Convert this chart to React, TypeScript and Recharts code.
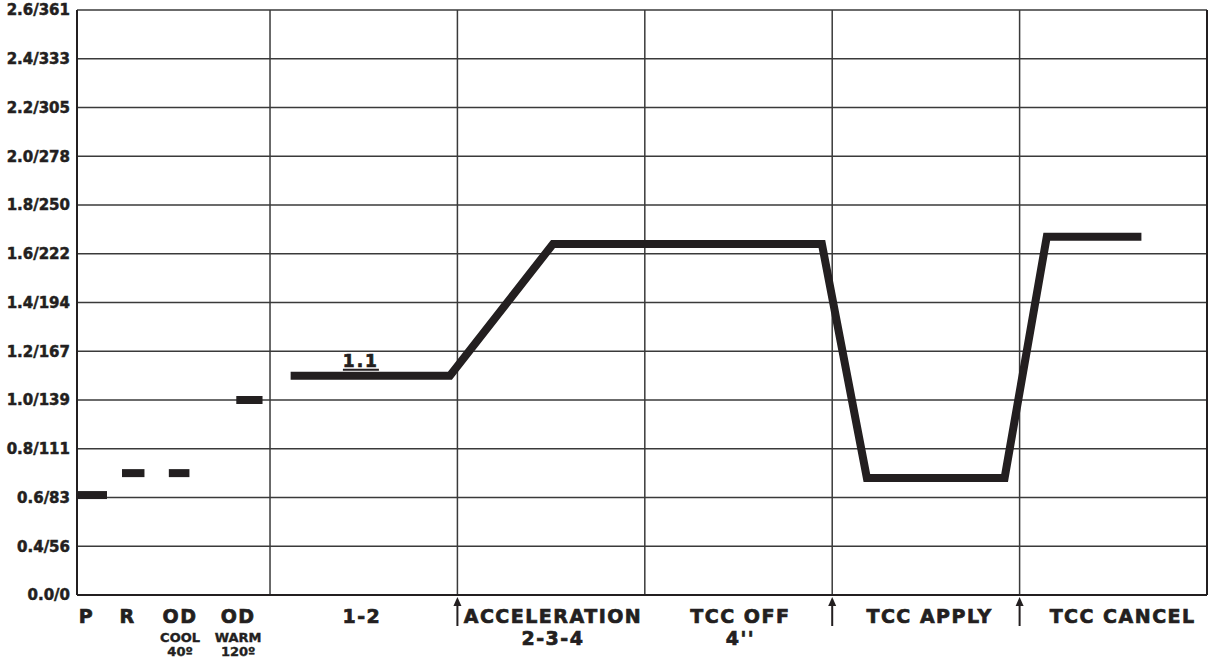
import { LineChart, Line, XAxis, YAxis, CartesianGrid, ReferenceLine, ReferenceDot } from "recharts";

const INK = "#231f20";
const GRID = "#3a3a3a";
const FONT = "'DejaVu Sans', Verdana, sans-serif";

// Pressure scale (psi / kPa). The bottom label reads 0.0/0 but sits one
// step below 0.4, i.e. where 0.2 would be, so the ticks stay evenly spaced.
const yTicks = [0.2, 0.4, 0.6, 0.8, 1.0, 1.2, 1.4, 1.6, 1.8, 2.0, 2.2, 2.4, 2.6];
const yTickLabels = [
  "0.0/0", "0.4/56", "0.6/83", "0.8/111", "1.0/139", "1.2/167", "1.4/194",
  "1.6/222", "1.8/250", "2.0/278", "2.2/305", "2.4/333", "2.6/361",
];

// x runs in "sections" (one per test phase)
const X_MAX = 6.03;
const sectionEdges = [1.03, 2.03, 3.03, 4.03, 5.03];
const arrowTicks = [2.03, 4.03, 5.03];

const xLabelPos = [0.05, 0.27, 0.55, 0.86, 1.52, 2.54, 3.54, 4.55, 5.58];
const xLabelText = ["P", "R", "OD", "OD", "1-2", "ACCELERATION", "TCC OFF", "TCC APPLY", "TCC CANCEL"];
const xLabelSub = ["", "", "", "", "", "2-3-4", "4''", "", ""];
const xLabelSmall = [[], [], ["COOL", "40º"], ["WARM", "120º"], [], [], [], [], []];

// readings
const parkDash = [{ x: 0, y: 0.61 }, { x: 0.16, y: 0.61 }];
const reverseDash = [{ x: 0.24, y: 0.7 }, { x: 0.36, y: 0.7 }];
const odCoolDash = [{ x: 0.49, y: 0.7 }, { x: 0.6, y: 0.7 }];
const odWarmDash = [{ x: 0.85, y: 1.0 }, { x: 0.99, y: 1.0 }];
const driveTrace = [
  { x: 1.14, y: 1.1 },
  { x: 1.99, y: 1.1 },
  { x: 2.54, y: 1.64 },
  { x: 3.975, y: 1.64 },
  { x: 4.215, y: 0.68 },
  { x: 4.95, y: 0.68 },
  { x: 5.175, y: 1.67 },
  { x: 5.68, y: 1.67 },
];
const shiftLabel = { x: 1.515, y: 1.1, text: "1.1" };

// a hairline outline makes DejaVu Bold read closer to the heavy original
const heavy = { stroke: INK, strokeWidth: 0.7, paintOrder: "stroke" as const };

function XTick({ x, y, payload }: any) {
  const v = payload.value;
  if (arrowTicks.includes(v)) {
    return (
      <g>
        <line x1={x} y1={y + 8} x2={x} y2={y + 31} stroke={INK} strokeWidth={2} />
        <path d={`M${x - 4},${y + 11} L${x},${y + 2} L${x + 4},${y + 11} Z`} fill={INK} />
      </g>
    );
  }
  const i = xLabelPos.indexOf(v);
  if (i < 0) return null;
  return (
    <g fontFamily={FONT} fontWeight="bold" fill={INK} textAnchor="middle" {...heavy}>
      <text x={x} y={y + 28} fontSize={19} letterSpacing={1.5}>{xLabelText[i]}</text>
      {xLabelSub[i] && (
        <text x={x} y={y + 50} fontSize={19} letterSpacing={1.5}>{xLabelSub[i]}</text>
      )}
      {xLabelSmall[i].map((s, k) => (
        <text key={k} x={x} y={y + 47 + k * 14} fontSize={13} strokeWidth={0.4}>{s}</text>
      ))}
    </g>
  );
}

const lineProps = {
  type: "linear" as const,
  dataKey: "y",
  stroke: INK,
  strokeWidth: 8,
  strokeLinejoin: "miter" as const,
  strokeLinecap: "butt" as const,
  dot: false,
  activeDot: false,
  isAnimationActive: false,
};

export default function App() {
  return (
    <div style={{ position: "absolute", left: 0, top: 0, background: "#fff" }}>
      <LineChart width={1212} height={662} margin={{ top: 10, right: 5, left: 0, bottom: 0 }}>
        <CartesianGrid vertical={false} stroke={GRID} strokeWidth={1.5} />
        <XAxis
          type="number"
          dataKey="x"
          domain={[0, X_MAX]}
          ticks={[...xLabelPos, ...arrowTicks]}
          interval={0}
          height={67}
          tickSize={0}
          tickMargin={0}
          tickLine={false}
          axisLine={{ stroke: INK, strokeWidth: 2 }}
          tick={(p: any) => <XTick {...p} />}
          allowDataOverflow
        />
        <YAxis
          type="number"
          domain={[0.2, 2.6]}
          ticks={yTicks}
          interval={0}
          width={77}
          tickSize={0}
          tickMargin={7}
          tickLine={false}
          axisLine={{ stroke: INK, strokeWidth: 2 }}
          tickFormatter={(v: number) => yTickLabels[yTicks.indexOf(v)] ?? ""}
          tick={{ fontFamily: FONT, fontWeight: "bold", fontSize: 15, fill: INK, ...heavy, strokeWidth: 0.5 }}
          allowDataOverflow
        />
        {sectionEdges.map((e) => (
          <ReferenceLine key={e} x={e} stroke={GRID} strokeWidth={1.5} />
        ))}
        <ReferenceLine x={X_MAX} stroke={INK} strokeWidth={2} />
        <Line {...lineProps} data={parkDash} />
        <Line {...lineProps} data={reverseDash} />
        <Line {...lineProps} data={odCoolDash} />
        <Line {...lineProps} data={odWarmDash} />
        <Line {...lineProps} data={driveTrace} />
        <ReferenceDot
          x={shiftLabel.x}
          y={shiftLabel.y}
          r={0}
          shape={(p: any) => (
            <g>
              <text
                x={p.cx}
                y={p.cy - 9}
                textAnchor="middle"
                fontFamily={FONT}
                fontWeight="bold"
                fontSize={17}
                letterSpacing={2}
                fill={INK}
                {...heavy}
              >
                {shiftLabel.text}
              </text>
              <line x1={p.cx - 18} y1={p.cy - 6} x2={p.cx + 18} y2={p.cy - 6} stroke={INK} strokeWidth={2} />
            </g>
          )}
        />
      </LineChart>
    </div>
  );
}
